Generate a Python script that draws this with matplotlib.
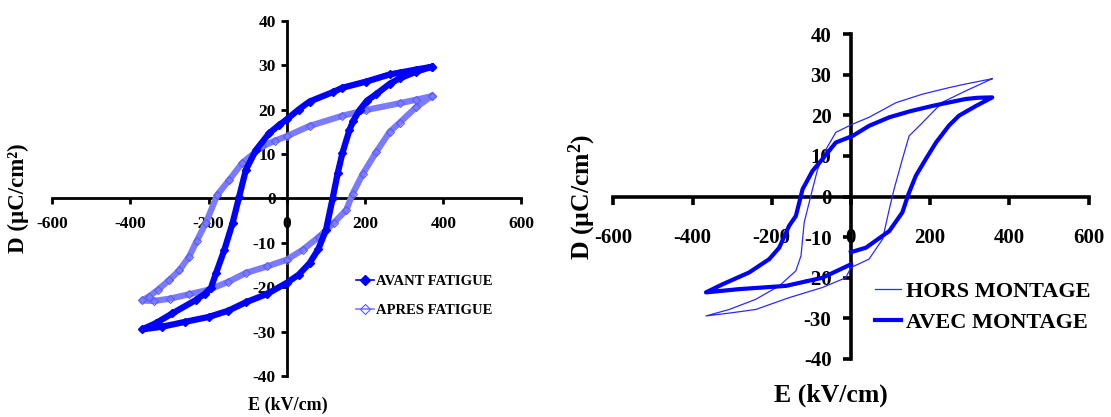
import matplotlib
matplotlib.use("Agg")
import matplotlib.pyplot as plt

plt.rcParams["font.family"] = ["Liberation Serif", "DejaVu Serif"]
plt.rcParams["mathtext.default"] = "regular"
plt.rcParams["axes.unicode_minus"] = False

# ---- left panel: AVANT / APRES FATIGUE
avant_E = [370, 330, 288, 263, 203, 142, 117, 58, 30, 0, -20, -45, -79, -105, -122, -139, -160,
           -181, -194, -210, -233, -293, -335, -370, -319, -260, -200, -150, -105, -50, 0, 30, 58,
           80, 100, 117, 130, 142, 160, 170, 186, 205, 229, 263, 288, 330, 370]
avant_D = [29.6, 29.0, 28.3, 27.9, 26.3, 24.9, 23.9, 21.8, 20.0, 17.8, 16.5, 14.7, 10.9, 6.4, 0.4,
           -5.6, -11.6, -16.8, -20.1, -21.5, -22.9, -25.9, -28.1, -29.5, -28.9, -27.8, -26.7, -25.3,
           -23.4, -21.5, -19.0, -17.2, -14.6, -11.5, -7.1, 0.0, 5.7, 10.2, 15.4, 17.5, 19.9, 22.0,
           23.5, 25.8, 27.0, 28.5, 29.6]

apres_E = [370, 330, 288, 203, 142, 58, 0, -30, -63, -114, -147, -178, -207, -230, -250, -275, -301,
           -330, -353, -370, -340, -300, -250, -201, -150, -105, -50, 0, 40, 83, 120, 152, 168, 194,
           229, 263, 288, 330, 370]
apres_D = [23.0, 22.2, 21.4, 19.9, 18.6, 16.3, 14.0, 13.0, 11.7, 8.0, 4.2, 0.8, -5.5, -9.5, -13.1,
           -16.2, -18.4, -20.6, -22.1, -23.0, -23.1, -22.6, -21.6, -20.6, -18.8, -16.8, -15.3, -13.8,
           -11.6, -8.6, -5.5, -2.6, 1.0, 5.5, 10.5, 15.0, 17.0, 20.5, 23.0]

# ---- right panel: HORS / AVEC MONTAGE
hors_E = [357, 290, 248, 181, 114, 46, 4, -38, -63, -84, -97, -118, -126, -139, -181, -240, -307,
          -366, -299, -240, -156, -72, -13, 0, 46, 80, 97, 109, 130, 147, 181, 231, 290, 357]
hors_D = [29.0, 27.7, 26.8, 25.2, 23.1, 19.5, 17.8, 15.8, 11.6, 6.7, 1.8, -6.4, -14.6, -18.3, -22.0,
          -25.3, -27.8, -29.4, -28.6, -27.8, -24.9, -22.4, -20.0, -17.5, -15.4, -10.5, -3.1, 1.8,
          9.2, 14.9, 18.2, 23.2, 26.0, 29.0]

avec_E = [0, 38, 97, 130, 145, 164, 189, 215, 248, 273, 316, 357, 320, 290, 250, 206, 150, 97, 46,
          4, -38, -72, -97, -122, -139, -156, -181, -206, -257, -324, -366, -282, -164, -72, 0]
avec_D = [-13.7, -12.6, -8.5, -3.9, 0.5, 5.1, 9.2, 13.3, 17.5, 19.9, 22.3, 24.4, 24.3, 24.0, 23.2,
          22.3, 21.0, 19.5, 17.4, 14.9, 13.3, 9.2, 6.3, 1.8, -4.8, -7.2, -12.6, -15.4, -18.7, -21.6,
          -23.6, -22.8, -22.0, -20.0, -16.7]

xticks = [-600, -400, -200, 0, 200, 400, 600]
yticks = [-40, -30, -20, -10, 0, 10, 20, 30, 40]

W, H = 1111, 417
fig = plt.figure(figsize=(W / 100, H / 100), dpi=100)


def cross_axes(ax, lw, tlen, xpad, ypad, fs):
    ax.set_xlim(-600, 600)
    ax.set_ylim(-40, 40)
    ax.spines["left"].set_position(("data", 0))
    ax.spines["bottom"].set_position(("data", 0))
    ax.spines["right"].set_visible(False)
    ax.spines["top"].set_visible(False)
    for s in ("left", "bottom"):
        ax.spines[s].set_linewidth(lw)
    ax.set_xticks(xticks)
    ax.set_yticks(yticks)
    ax.tick_params(axis="x", direction="out", length=tlen, width=lw, pad=xpad, labelsize=fs)
    ax.tick_params(axis="y", direction="out", length=tlen, width=lw, pad=ypad, labelsize=fs)
    for t in ax.get_xticklabels() + ax.get_yticklabels():
        t.set_fontweight("bold")
    ax.patch.set_visible(False)


# left axes
ax1 = fig.add_axes([52.3 / W, 1 - 376 / H, 469.2 / W, 355.3 / H])
cross_axes(ax1, 2.0, 4, 9, 4, 12.5)
ax1.plot(apres_E, apres_D, color="#7b7bff", lw=4.5, marker="D", ms=4.5, mfc="none",
         mec="#5a5aff", mew=0.8, label="APRES FATIGUE", zorder=3)
ax1.plot(avant_E, avant_D, color="#0000ff", lw=4.5, marker="D", ms=4.0, mfc="#0000ff",
         mec="#0000ff", label="AVANT FATIGUE", zorder=4)
h, l = ax1.get_legend_handles_labels()
leg1 = ax1.legend(h[::-1], l[::-1], loc="center left", bbox_to_anchor=(356 / W, 1 - 296 / H),
                  bbox_transform=fig.transFigure, frameon=False, borderpad=0, borderaxespad=0,
                  handlelength=1.2, handletextpad=0.2, labelspacing=1.05,
                  prop={"weight": "bold", "size": 10.5})
for lh in leg1.legend_handles:
    lh.set_linewidth(1.2)
    lh.set_markersize(5)
fig.text(18 / W, 1 - 198 / H, "D (µC/cm²)", rotation=90, ha="center", va="center",
         fontsize=16.5, fontweight="bold")
fig.text(288 / W, 1 - 405 / H, "E (kV/cm)", ha="center", va="center", fontsize=13,
         fontweight="bold")

# right axes
ax2 = fig.add_axes([613.3 / W, 1 - 359 / H, 475.2 / W, 325 / H])
cross_axes(ax2, 2.6, 6, 17, 8, 15)
ax2.plot(hors_E, hors_D, color="#2a2aff", lw=0.9, label="HORS MONTAGE", zorder=3)
ax2.plot(avec_E, avec_D, color="#0000ff", lw=3.0, label="AVEC MONTAGE", zorder=4)
ax2.legend(loc="center left", bbox_to_anchor=(875 / W, 1 - 307 / H),
           bbox_transform=fig.transFigure, frameon=False, borderpad=0, borderaxespad=0,
           handlelength=1.15, handletextpad=0.25, labelspacing=0.45,
           prop={"size": 16, "weight": "bold"})
fig.text(582 / W, 1 - 197 / H, "D (µC/cm$^{2}$)", rotation=90, ha="center", va="center",
         fontsize=18.5, fontweight="bold")
fig.text(831 / W, 1 - 395 / H, "E (kV/cm)", ha="center", va="center", fontsize=18.5,
         fontweight="bold")

fig.savefig("out.png", dpi=100, facecolor="white")
